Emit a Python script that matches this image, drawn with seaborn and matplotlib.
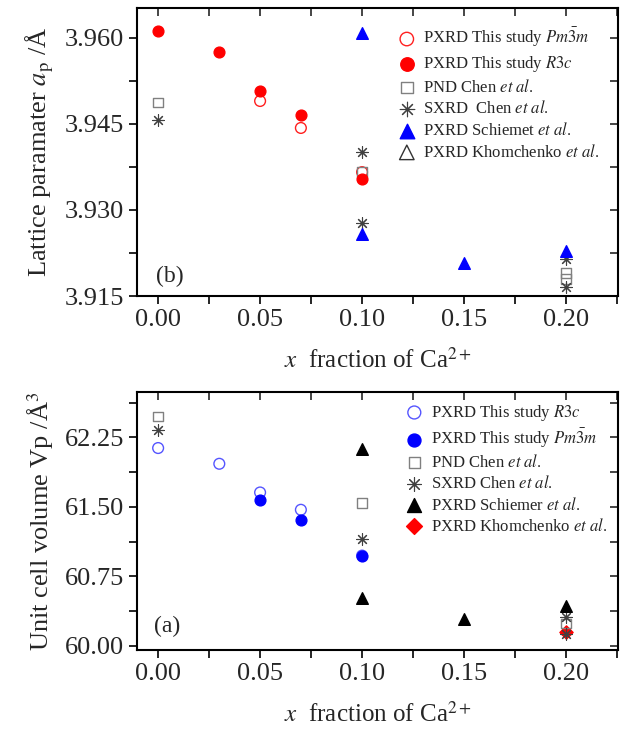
import numpy as np
import pandas as pd
import matplotlib
matplotlib.use("Agg")
import matplotlib.pyplot as plt
import seaborn as sns
from matplotlib.ticker import MultipleLocator, FormatStrFormatter

# ---------------- data: panel (b) lattice parameter ----------------
b_pm3m_x = [0.05, 0.07, 0.10]
b_pm3m_y = [3.9490, 3.9443, 3.9366]
b_r3c_x = [0.00, 0.03, 0.05, 0.07, 0.10]
b_r3c_y = [3.9612, 3.9575, 3.9508, 3.9466, 3.9354]
b_pnd_x = [0.00, 0.10, 0.20, 0.20]
b_pnd_y = [3.9487, 3.9366, 3.9190, 3.9180]
b_sxrd_x = [0.00, 0.10, 0.10, 0.20, 0.20]
b_sxrd_y = [3.9456, 3.9401, 3.9277, 3.9215, 3.9166]
b_sch_x = [0.10, 0.10, 0.15, 0.20]
b_sch_y = [3.9608, 3.9259, 3.9208, 3.9228]
b_kho_x = []
b_kho_y = []

# ---------------- data: panel (a) unit cell volume ----------------
a_r3c_x = [0.00, 0.03, 0.05, 0.07, 0.10]
a_r3c_y = [62.135, 61.965, 61.655, 61.468, 60.973]
a_pm3m_x = [0.05, 0.07, 0.10]
a_pm3m_y = [61.576, 61.360, 60.970]
a_pnd_x = [0.00, 0.10, 0.20]
a_pnd_y = [62.477, 61.540, 60.240]
a_sxrd_x = [0.00, 0.10, 0.20, 0.20]
a_sxrd_y = [62.330, 61.150, 60.310, 60.130]
a_sch_x = [0.10, 0.10, 0.15, 0.20]
a_sch_y = [62.120, 60.520, 60.290, 60.430]
a_kho_x = [0.20]
a_kho_y = [60.150]

sns.set_theme(style="ticks")
plt.rcParams["font.family"] = ["Liberation Serif", "DejaVu Serif"]
plt.rcParams["mathtext.fontset"] = "stix"

fig = plt.figure(figsize=(6.29, 7.31), dpi=100)
axb = fig.add_axes([0.218, 0.595, 0.7645, 0.394])
axa = fig.add_axes([0.218, 0.1108, 0.7645, 0.3529])

ast = (8, 2, 0)


def series(ax, x, y, label, marker, fc, ec, s, lw=1.0, z=3):
    if len(x) == 0:
        ax.scatter([], [], marker=marker, facecolors=fc, edgecolors=ec,
                   s=s, linewidths=lw, label=label)
        return
    df = pd.DataFrame({"x": x, "y": y})
    sns.scatterplot(data=df, x="x", y="y", ax=ax, marker=marker,
                    facecolor=fc, edgecolor=ec, s=s, linewidth=lw,
                    label=label, zorder=z)


# panel (b)
series(axb, b_pm3m_x, b_pm3m_y, r"PXRD This study $Pm\bar{3}m$", "o", "none", "#ff2020", 60, 1.0, 3)
series(axb, b_r3c_x, b_r3c_y, r"PXRD This study $R3c$", "o", "#ff0000", "#ff0000", 60, 1.0, 4)
series(axb, b_pnd_x, b_pnd_y, r"PND Chen $et\ al.$", "s", "none", "#808080", 45, 1.0, 3)
series(axb, b_sxrd_x, b_sxrd_y, r"SXRD  Chen $et\ al.$", ast, "#404040", "#505050", 70, 0.8, 3)
series(axb, b_sch_x, b_sch_y, r"PXRD Schiemet $et\ al.$", "^", "#0000ff", "#0000ff", 70, 1.0, 4)
series(axb, b_kho_x, b_kho_y, r"PXRD Khomchenko $et\ al.$", "^", "none", "#333333", 70, 1.0, 3)

# panel (a)
series(axa, a_r3c_x, a_r3c_y, r"PXRD This study $R3c$", "o", "none", "#5555ff", 60, 1.0, 3)
series(axa, a_pm3m_x, a_pm3m_y, r"PXRD This study $Pm\bar{3}m$", "o", "#0000ff", "#0000ff", 60, 1.0, 4)
series(axa, a_pnd_x, a_pnd_y, r"PND Chen $et\ al.$", "s", "none", "#808080", 45, 1.0, 3)
series(axa, a_sxrd_x, a_sxrd_y, r"SXRD Chen $et\ al.$", ast, "#404040", "#505050", 70, 0.8, 3)
series(axa, a_sch_x, a_sch_y, r"PXRD Schiemer $et\ al.$", "^", "#000000", "#000000", 70, 1.0, 4)
series(axa, a_kho_x, a_kho_y, r"PXRD Khomchenko $et\ al.$", "D", "#ff0000", "#ff0000", 45, 1.0, 2)

tick_fs = 19
for ax in (axb, axa):
    ax.set_xlim(-0.0103, 0.2255)
    ax.xaxis.set_major_locator(MultipleLocator(0.05))
    ax.xaxis.set_minor_locator(MultipleLocator(0.025))
    ax.xaxis.set_major_formatter(FormatStrFormatter("%.2f"))
    ax.tick_params(axis="both", which="both", labelsize=tick_fs, width=1.2, color="black",
                   length=6, direction="out")
    axt = ax.secondary_xaxis("top")
    axt.xaxis.set_major_locator(MultipleLocator(0.025))
    axt.tick_params(direction="in", length=6, width=1.2, labeltop=False)
    for sp in ax.spines.values():
        sp.set_linewidth(1.5)
        sp.set_color("black")
    ax.set_xlabel(r"$x$  fraction of Ca$^{2+}$", fontsize=18, labelpad=12)

axb.legend(loc="upper right", frameon=False, fontsize=12, markerscale=1.25,
           handletextpad=0.4, labelspacing=0.28, borderaxespad=0.7,
           handlelength=1.2)
axa.legend(loc="upper right", frameon=False, fontsize=12, markerscale=1.2,
           handletextpad=0.4, labelspacing=0.25, borderaxespad=0.25,
           handlelength=1.2)

axb.set_ylim(3.915, 3.9652)
axb.yaxis.set_major_locator(MultipleLocator(0.015))
axb.yaxis.set_minor_locator(MultipleLocator(0.0075))
axb.yaxis.set_major_formatter(FormatStrFormatter("%.3f"))
axb.set_ylabel(r"Lattice paramater $a_{\rm p}$ /Å", fontsize=19, labelpad=6)

axa.set_ylim(59.953, 62.74)
axa.yaxis.set_major_locator(MultipleLocator(0.75))
axa.yaxis.set_minor_locator(MultipleLocator(0.375))
axa.yaxis.set_major_formatter(FormatStrFormatter("%.2f"))
axa.set_ylabel(r"Unit cell volume Vp /Å$^3$", fontsize=19, labelpad=6)

# right-side inward ticks (no labels)
for ax, step in ((axb, 0.0075), (axa, 0.375)):
    ax2 = ax.secondary_yaxis("right")
    ax2.yaxis.set_major_locator(MultipleLocator(step))
    ax2.tick_params(direction="in", length=6, width=1.2, labelright=False)

axb.text(0.04, 0.05, "(b)", transform=axb.transAxes, fontsize=17)
axa.text(0.035, 0.07, "(a)", transform=axa.transAxes, fontsize=17)

fig.savefig("out.png", dpi=100)
